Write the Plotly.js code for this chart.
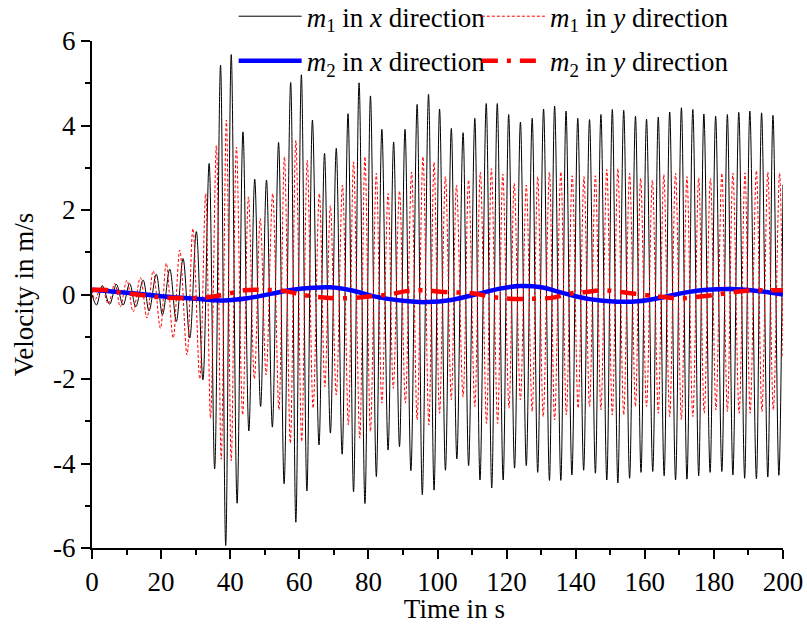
<!DOCTYPE html>
<html>
<head>
<meta charset="utf-8">
<script src="https://cdn.plot.ly/plotly-3.0.1.min.js"></script>
<style>html,body{margin:0;padding:0;background:#fff;}#chart{width:807px;height:624px;}</style>
</head>
<body>
<div id="chart"></div>
<script>
// m1 in x direction: extrema (time in s, velocity in m/s)
const m1xT = [0, 1.3, 3.0, 5.1, 7.05, 9.0, 10.9, 12.65, 14.8, 16.5, 18.6, 20.4, 22.5, 24.4, 26.35, 28.3, 30.2, 32.1, 33.9, 35.5, 37.2, 38.7, 40.3, 42.0, 43.7, 45.4, 47.1, 48.8, 50.5, 52.2, 54.0, 55.6, 57.5, 59.0, 60.6, 62.2, 63.8, 65.7, 67.3, 69.0, 70.7, 72.4, 74.1, 75.7, 77.3, 79.0, 80.6, 82.3, 83.9, 85.7, 87.3, 89.0, 90.6, 92.3, 94.1, 95.6, 97.4, 99.0, 100.6, 102.3, 104.0, 105.6, 107.4, 109.0, 110.8, 112.3, 114.1, 115.7, 117.3, 119.0, 120.6, 122.3, 124.0, 125.7, 127.4, 129.0, 130.7, 132.4, 133.9, 135.7, 137.2, 138.9, 140.6, 142.3, 144.0, 145.7, 147.3, 149.0, 150.6, 152.2, 153.9, 155.6, 157.3, 158.9, 160.5, 162.3, 163.9, 165.6, 167.2, 168.9, 170.6, 172.2, 173.9, 175.6, 177.1, 178.9, 180.5, 182.3, 183.9, 185.5, 187.2, 188.9, 190.4, 192.3, 193.8, 195.6, 197.1, 198.8, 200];
const m1xV = [0, -0.25, 0.21, -0.23, 0.24, -0.25, 0.26, -0.29, 0.34, -0.39, 0.48, -0.48, 0.6, -0.64, 0.85, -1.03, 1.49, -2.02, 3.1, -4.13, 5.43, -5.94, 5.68, -4.94, 3.85, -3.23, 2.73, -2.65, 2.71, -3.14, 3.60, -4.48, 5.02, -5.39, 5.20, -4.65, 4.13, -3.56, 3.34, -3.28, 3.46, -3.78, 4.28, -4.67, 5.01, -4.95, 4.70, -4.31, 3.91, -3.68, 3.61, -3.60, 3.91, -4.17, 4.50, -4.74, 4.74, -4.63, 4.39, -4.16, 3.93, -3.89, 3.83, -4.05, 4.17, -4.39, 4.52, -4.58, 4.52, -4.39, 4.26, -4.11, 4.08, -4.05, 4.17, -4.21, 4.39, -4.40, 4.46, -4.40, 4.34, -4.27, 4.17, -4.16, 4.14, -4.23, 4.26, -4.39, 4.38, -4.46, 4.36, -4.35, 4.22, -4.21, 4.15, -4.19, 4.20, -4.29, 4.32, -4.39, 4.42, -4.37, 4.38, -4.29, 4.27, -4.21, 4.22, -4.19, 4.26, -4.27, 4.31, -4.35, 4.34, -4.36, 4.30, -4.32, 4.24, -4.28, 2.6];

// m1 in y direction: extrema
const m1yT = [0, 0.9, 2.8, 4.7, 6.6, 8.2, 10.1, 11.9, 14.0, 15.9, 17.7, 19.8, 21.5, 23.5, 25.4, 27.5, 29.2, 31.2, 32.9, 34.3, 36.0, 37.4, 38.9, 40.3, 41.8, 43.6, 45.3, 47.0, 48.7, 50.4, 52.3, 54.1, 55.7, 57.4, 59.0, 60.7, 62.3, 64.0, 65.8, 67.4, 69.0, 70.7, 72.5, 74.2, 75.7, 77.5, 79.0, 80.6, 82.3, 83.9, 85.7, 87.2, 89.0, 90.7, 92.5, 94.1, 95.8, 97.5, 99.0, 100.6, 102.3, 104.0, 105.5, 107.4, 109.0, 110.8, 112.4, 114.2, 115.6, 117.4, 118.9, 120.7, 122.2, 124.0, 125.7, 127.4, 129.0, 130.6, 132.4, 133.9, 135.7, 137.3, 139.0, 140.7, 142.4, 144.0, 145.7, 147.3, 149.0, 150.6, 152.2, 153.9, 155.6, 157.3, 158.8, 160.5, 162.2, 163.9, 165.5, 167.2, 168.9, 170.6, 172.2, 173.9, 175.6, 177.2, 179.0, 180.6, 182.3, 183.9, 185.5, 187.3, 189.0, 190.5, 192.3, 193.9, 195.6, 197.2, 199.0, 200];
const m1yV = [0.1, -0.12, 0.2, -0.22, 0.26, -0.29, 0.34, -0.41, 0.40, -0.56, 0.56, -0.80, 0.74, -1.03, 1.05, -1.43, 1.56, -2.0, 2.39, -2.93, 3.53, -3.90, 4.13, -3.94, 3.49, -2.85, 2.31, -2.0, 1.8, -1.9, 2.39, -2.73, 3.26, -3.52, 3.65, -3.48, 3.18, -2.69, 2.39, -2.18, 2.1, -2.38, 2.59, -3.09, 3.14, -3.40, 3.26, -3.24, 2.87, -2.57, 2.39, -2.22, 2.45, -2.57, 2.90, -2.97, 3.26, -3.09, 3.13, -2.81, 2.79, -2.49, 2.59, -2.42, 2.71, -2.65, 2.90, -3.05, 2.98, -3.05, 2.85, -2.69, 2.63, -2.49, 2.59, -2.77, 2.79, -2.89, 2.90, -2.97, 2.90, -2.85, 2.81, -2.69, 2.79, -2.65, 2.81, -2.73, 2.96, -2.85, 2.98, -2.85, 2.87, -2.65, 2.75, -2.65, 2.71, -2.81, 2.84, -2.89, 2.87, -2.97, 2.79, -2.89, 2.76, -2.81, 2.75, -2.73, 2.87, -2.77, 2.87, -2.81, 2.88, -2.81, 2.93, -2.77, 2.90, -2.73, 2.87, -1.5];

// m2 in x direction
const m2xT = [0, 10, 20, 30, 38, 45, 52, 58, 64, 69, 75, 82, 90, 97, 104, 112, 118, 124, 130, 137, 144, 152, 158, 165, 172, 178, 185, 192, 200];
const m2xV = [0.11, 0.04, -0.04, -0.10, -0.14, -0.09, 0.02, 0.11, 0.16, 0.17, 0.10, -0.05, -0.15, -0.18, -0.13, 0.02, 0.14, 0.20, 0.17, 0.02, -0.11, -0.17, -0.16, -0.07, 0.05, 0.11, 0.13, 0.09, 0.0];

// m2 in y direction
const m2yT = [0, 5, 8, 14, 20, 27, 33, 38, 44, 50, 56, 61, 67, 73, 80, 86, 91, 96, 102, 110, 116, 121, 127, 133, 139, 143, 148, 153, 159, 164, 170, 176, 181, 186, 191, 196, 200];
const m2yV = [0.11, 0.10, 0.05, -0.01, -0.07, -0.09, -0.07, -0.01, 0.10, 0.11, 0.08, -0.01, -0.07, -0.09, -0.05, 0.0, 0.08, 0.10, 0.06, 0.03, -0.06, -0.10, -0.10, -0.08, 0.03, 0.06, 0.10, 0.06, 0.0, -0.05, -0.09, -0.05, 0.0, 0.06, 0.10, 0.10, 0.10];

const xTicks = [0, 20, 40, 60, 80, 100, 120, 140, 160, 180, 200];
const yTicks = [-6, -4, -2, 0, 2, 4, 6];

const FONT = '"Liberation Serif", "Times New Roman", serif';
const FS = 27;

const traces = [
  {x: m1xT, y: m1xV, type: 'scatter', mode: 'lines', name: '<i>m</i><sub>1</sub> in <i>x</i> direction',
   line: {color: '#000000', width: 1, shape: 'spline', smoothing: 1}, legend: 'legend'},
  {x: m1yT, y: m1yV, type: 'scatter', mode: 'lines', name: '<i>m</i><sub>1</sub> in <i>y</i> direction',
   line: {color: '#ff0000', width: 1, dash: '3px,2px', shape: 'spline', smoothing: 1}, legend: 'legend2'},
  {x: m2xT, y: m2xV, type: 'scatter', mode: 'lines', name: '<i>m</i><sub>2</sub> in <i>x</i> direction',
   line: {color: '#0000ff', width: 4.5, shape: 'spline', smoothing: 1}, legend: 'legend3'},
  {x: m2yT, y: m2yV, type: 'scatter', mode: 'lines', name: '<i>m</i><sub>2</sub> in <i>y</i> direction',
   line: {color: '#ff0000', width: 4.5, dash: '16px,9px,4px,9px', shape: 'spline', smoothing: 1}, legend: 'legend4'}
];

const legendCommon = {
  xanchor: 'left', yanchor: 'middle', bgcolor: 'rgba(0,0,0,0)',
  font: {family: FONT, size: FS, color: '#000'}, itemwidth: 63
};
const col1X = 0.205, col2X = 0.557, row1Y = 1.048, row2Y = 0.96;

const layout = {
  width: 807, height: 624,
  margin: {l: 92.3, r: 23.7, t: 40.7, b: 75.7, autoexpand: false},
  paper_bgcolor: '#ffffff', plot_bgcolor: '#ffffff',
  font: {family: FONT, size: FS, color: '#000'},
  showlegend: true,
  legend: Object.assign({}, legendCommon, {x: col1X, y: row1Y}),
  legend2: Object.assign({}, legendCommon, {x: col2X, y: row1Y}),
  legend3: Object.assign({}, legendCommon, {x: col1X, y: row2Y}),
  legend4: Object.assign({}, legendCommon, {x: col2X, y: row2Y}),
  xaxis: {
    range: [0, 200], tickvals: xTicks, ticktext: xTicks.map(String),
    ticks: 'outside', ticklen: 9, tickwidth: 2, tickcolor: '#000',
    showline: true, linecolor: '#000', linewidth: 2, mirror: false,
    showgrid: false, zeroline: false,
    minor: {dtick: 10, tick0: 0, ticks: 'outside', ticklen: 5, tickwidth: 2, tickcolor: '#000', showgrid: false},
    tickfont: {family: FONT, size: FS, color: '#000'},
    title: {text: '&nbsp;&nbsp;&nbsp;&nbsp;&nbsp;Time in s', font: {family: FONT, size: FS, color: '#000'}, standoff: 6}
  },
  yaxis: {
    range: [-6, 6], tickvals: yTicks, ticktext: yTicks.map(String),
    ticks: 'outside', ticklen: 9, tickwidth: 2, tickcolor: '#000',
    showline: true, linecolor: '#000', linewidth: 2, mirror: false,
    showgrid: false, zeroline: false,
    minor: {dtick: 1, tick0: 0, ticks: 'outside', ticklen: 5, tickwidth: 2, tickcolor: '#000', showgrid: false},
    tickfont: {family: FONT, size: FS, color: '#000'},
    title: {text: 'Velocity in m/s', font: {family: FONT, size: FS, color: '#000'}, standoff: 12}
  },
  hovermode: false
};

Plotly.newPlot('chart', traces, layout, {displayModeBar: false, staticPlot: true});
</script>
</body>
</html>
